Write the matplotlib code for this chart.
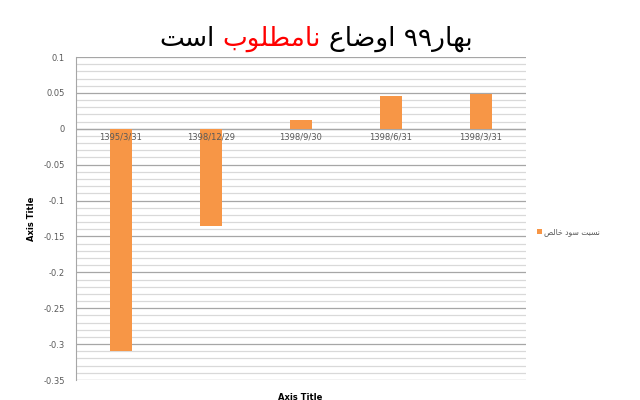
import numpy as np
import matplotlib
matplotlib.use('Agg')
import matplotlib.pyplot as plt
from matplotlib.offsetbox import TextArea, HPacker, AnchoredOffsetbox

# داده ها
dates = ['1395/3/31', '1398/12/29', '1398/9/30', '1398/6/31', '1398/3/31']
values = [-0.31, -0.136, 0.012, 0.045, 0.048]

# متن فارسی با شکل های نمایشی (ترتیب دیداری چپ به راست)
title_left = '\uFE96\uFEB3\uFE8D'                                    # است
title_red = '\uFE8F\uFEEE\uFEE0\uFEC4\uFEE3\uFE8E\uFEE7'             # نامطلوب
title_right = '\uFEC9\uFE8E\uFEBF\uFEED\uFE8D \u06F9\u06F9\uFEAD\uFE8E\uFEEC\uFE91'  # اوضاع ۹۹بهار
legend_label = '\uFEBA\uFEDF\uFE8E\uFEA7 \uFEA9\uFEEE\uFEB3 \uFE96\uFE92\uFEB4\uFEE7'  # نسبت سود خالص

orange = '#F79646'
grid_major = '#A6A6A6'
grid_minor = '#D9D9D9'
txt = '#595959'

fig = plt.figure(figsize=(6.4, 4), dpi=100)
ax = fig.add_axes([76/640, 1 - 380/400, 450/640, 323/400])

x = np.arange(len(dates))
bars = ax.bar(x, values, width=0.245, color=orange, label=legend_label, zorder=3)

ax.set_xlim(-0.5, len(dates) - 0.5)
ax.set_ylim(-0.35, 0.1)
ax.set_yticks(np.arange(-0.35, 0.1001, 0.05))
ax.set_yticklabels(['-0.35', '-0.3', '-0.25', '-0.2', '-0.15', '-0.1', '-0.05', '0', '0.05', '0.1'])
ax.set_yticks(np.arange(-0.35, 0.1001, 0.01), minor=True)
ax.grid(axis='y', which='major', color=grid_major, linewidth=0.9, zorder=0)
ax.grid(axis='y', which='minor', color=grid_minor, linewidth=0.9, zorder=0)
ax.tick_params(axis='y', which='both', length=0, labelsize=6, labelcolor=txt, pad=8)
ax.set_xticks([])
for s in ['top', 'right', 'bottom']:
    ax.spines[s].set_visible(False)
ax.spines['left'].set_color(grid_major)
ax.axhline(0, color=grid_major, linewidth=0.9, zorder=2)

# برچسب تاریخ ها روی محور صفر
for i, d in enumerate(dates):
    ax.text(i, -0.005, d, ha='center', va='top', fontsize=6, color=txt, zorder=4)

ax.set_ylabel('Axis Title', fontsize=6, fontweight='bold', labelpad=5)
fig.text(300/640, 1 - 397/400, 'Axis Title', ha='center', va='center', fontsize=6, fontweight='bold')

ax.legend(loc='center left', bbox_to_anchor=(1.01, 0.46), frameon=False, fontsize=5.5,
          handlelength=0.6, handleheight=0.6, handletextpad=0.3, labelcolor=txt)

# عنوان دو رنگ
parts = [TextArea(title_left, textprops=dict(fontsize=19, color='black')),
         TextArea(title_red, textprops=dict(fontsize=19, color='#FF0000')),
         TextArea(title_right, textprops=dict(fontsize=19, color='black'))]
pack = HPacker(children=parts, align='baseline', pad=0, sep=6)
title_box = AnchoredOffsetbox(loc='center', child=pack, frameon=False,
                              bbox_to_anchor=(316/640, 1 - 39/400),
                              bbox_transform=fig.transFigure, borderpad=0)
fig.add_artist(title_box)

fig.savefig('out.png', dpi=100)
